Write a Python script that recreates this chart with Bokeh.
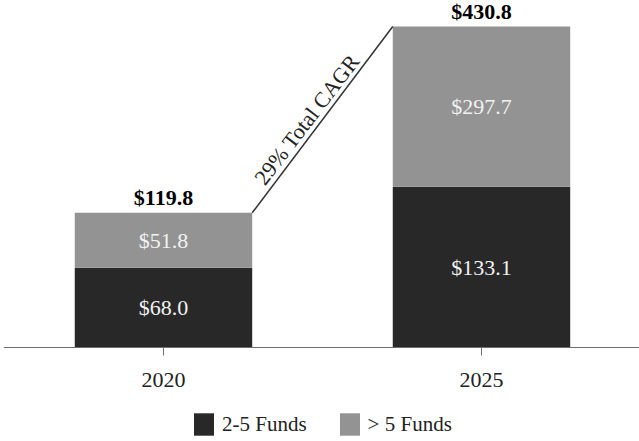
from bokeh.plotting import figure
from bokeh.models import ColumnDataSource, FixedTicker
from bokeh.core.properties import value
from bokeh.embed import file_html
from bokeh.resources import INLINE

# ---- data ----
years = ["2020", "2025"]
funds_2_5 = [68.0, 133.1]        # "2-5 Funds" ($)
funds_over_5 = [51.8, 297.7]     # "> 5 Funds" ($)
totals = [119.8, 430.8]
series_names = ["2-5 Funds", "> 5 Funds"]
cagr_label = "29% Total CAGR"
# The source chart is not drawn to scale: segment heights as drawn in the picture,
# expressed in units where the 2025 total bar equals 430.8
drawn_2_5 = [106.9, 215.7]
drawn_over_5 = [73.9, 215.1]

DARK = "#282828"
LIGHT = "#939393"
FONT = value("Liberation Serif")

xs = list(range(len(years)))
drawn_totals = [a + b for a, b in zip(drawn_2_5, drawn_over_5)]
bar_w = 0.558

src = ColumnDataSource(dict(
    x=xs,
    d25=drawn_2_5,
    d5=drawn_over_5,
    dt=drawn_totals,
    y_dark_mid=[a / 2 for a in drawn_2_5],
    y_light_mid=[a + b / 2 for a, b in zip(drawn_2_5, drawn_over_5)],
    lab_dark=[f"${v:.1f}" for v in funds_2_5],
    lab_light=[f"${v:.1f}" for v in funds_over_5],
    lab_tot=[f"${v:.1f}" for v in totals],
))

p = figure(width=639, height=441, output_backend="svg", toolbar_location=None,
           x_range=(-0.5031, 1.4969), y_range=(-126.2, 465.7),
           y_axis_location=None, min_border_left=3, min_border_right=0,
           min_border_top=0, min_border_bottom=0)
p.outline_line_color = None
p.xgrid.visible = False
p.ygrid.visible = False
p.background_fill_color = "white"
p.border_fill_color = "white"

p.vbar_stack(["d25", "d5"], x="x", width=bar_w, source=src,
             color=[DARK, LIGHT], line_color=None,
             legend_label=series_names)

# segment labels
p.text(x="x", y="y_dark_mid", text="lab_dark", source=src, text_align="center",
       text_baseline="middle", text_color="#f2f2f2", text_font=FONT,
       text_font_size="22px")
p.text(x="x", y="y_light_mid", text="lab_light", source=src, text_align="center",
       text_baseline="middle", text_color="#f2f2f2", text_font=FONT,
       text_font_size="22px")
# totals
p.text(x="x", y="dt", text="lab_tot", source=src, text_align="center",
       text_baseline="middle", y_offset=-15, text_color="black",
       text_font=FONT, text_font_size="22px", text_font_style="bold")

# CAGR connector
x0 = xs[0] + bar_w / 2
x1 = xs[1] - bar_w / 2
p.line(x=[x0, x1], y=[drawn_totals[0], drawn_totals[1]], line_color="#333333",
       line_width=1.5)
f = 0.46
p.text(x=[x0 + f * (x1 - x0)], y=[drawn_totals[0] + f * (drawn_totals[1] - drawn_totals[0])],
       text=[cagr_label], angle=52.6, angle_units="deg", text_align="center",
       text_baseline="bottom", text_color="#222222",
       text_font=FONT, text_font_size="22px")

ax = p.xaxis[0]
ax.fixed_location = 0
ax.ticker = FixedTicker(ticks=xs)
ax.major_label_overrides = {i: y for i, y in zip(xs, years)}
ax.major_label_text_font = "Liberation Serif"
ax.major_label_text_font_size = "22px"
ax.major_label_text_color = "#222222"
ax.major_label_standoff = 18
ax.major_tick_out = 8
ax.major_tick_in = 0
ax.minor_tick_line_color = None
ax.axis_line_color = "#6e6e6e"
ax.major_tick_line_color = "#6e6e6e"

lg = p.legend[0]
lg.orientation = "horizontal"
lg.location = (188, 3)
lg.border_line_color = None
lg.background_fill_alpha = 0
lg.padding = 0
lg.margin = 0
lg.glyph_width = 25
lg.glyph_height = 28
lg.label_standoff = 6
lg.spacing = 30
lg.label_text_font = "Liberation Serif"
lg.label_text_font_size = "21px"
lg.label_text_color = "#222222"

open("out.html", "w").write(file_html(p, INLINE))
